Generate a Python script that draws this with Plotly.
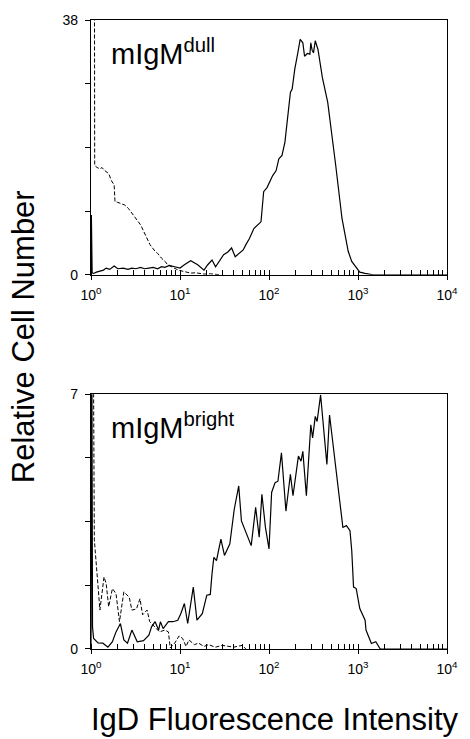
import plotly.graph_objects as go

# ---- data (IgD fluorescence intensity, relative cell number) ----
dull_igd_x = [1.0, 1.01, 1.03, 1.07, 1.15, 1.26, 1.38, 1.48, 1.62, 1.82, 2.0, 2.3, 2.6, 2.88, 3.2, 3.6, 4.0,
              4.47, 5.0, 5.6, 6.2, 6.76, 7.6, 8.71, 10.0, 11.2, 13.2, 15.8, 18.6, 20.5, 22.9, 25.1, 27.5, 30.9,
              34.5, 38.0, 41.7, 46.0, 51.3, 55.0, 60.3, 67.6, 74.0, 81.3, 87.1, 95, 110, 120, 129, 140, 151,
              162, 174, 182, 195, 210, 224, 240, 251, 270, 288, 295, 305, 316, 331, 355, 380, 398, 457, 510,
              562, 661, 776, 850, 933, 1047, 1200, 1349, 1479, 10000]
dull_igd_y = [0, 8.9, 0.3, 0.2, 0.4, 0.5, 0.7, 1.0, 0.8, 1.3, 0.9, 1.0, 0.8, 1.0, 0.9, 1.1, 0.9,
              1.0, 1.1, 0.9, 1.2, 1.1, 1.4, 1.2, 1.0, 1.5, 2.1, 1.5, 0.7, 1.5, 2.2, 1.2, 2.0, 3.0,
              3.4, 4.0, 2.7, 3.2, 3.7, 4.5, 5.4, 6.9, 7.4, 7.9, 12.4, 13.0, 14.8, 15.5, 17.3, 17.8, 19.8,
              24.0, 27.2, 27.7, 30.7, 33.0, 35.1, 34.6, 32.6, 33.0, 32.9, 34.6, 33.5, 33.1, 34.9, 33.6, 31.0,
              29.4, 25.7, 21.0, 16.3, 8.4, 3.5, 2.0, 1.2, 0.4, 0.2, 0.1, 0, 0]

dull_ctrl_x = [1.09, 1.10, 1.17, 1.26, 1.33, 1.41, 1.58, 1.70, 1.82, 1.86, 2.0, 2.19, 2.4, 2.63, 2.8, 3.02,
               3.3, 3.63, 3.9, 4.27, 4.6, 5.25, 5.6, 6.17, 6.8, 7.24, 8.0, 9.55, 11.0, 13.2, 15.0, 18.6,
               22.0, 28.2]
dull_ctrl_y = [60, 16.3, 16.0, 15.8, 16.0, 15.6, 15.1, 14.0, 13.4, 10.9, 10.8, 10.6, 10.4, 9.9, 9.4, 8.9,
               8.2, 7.4, 6.5, 5.4, 4.5, 3.5, 3.2, 2.5, 2.0, 1.5, 1.2, 0.7, 0.5, 0.25, 0.3, 0.1,
               0.15, 0]

bright_igd_x = [1.0, 1.005, 1.02, 1.04, 1.07, 1.2, 1.36, 1.55, 1.74, 1.91, 2.14, 2.34, 2.57, 2.88, 3.31,
                3.89, 4.47, 4.79, 5.25, 5.75, 6.03, 6.46, 7.41, 8.32, 9.44, 10.2, 11.2, 12.2, 14.1, 15.5,
                17.8, 20.0, 21.9, 22.9, 24.0, 25.7, 28.8, 31.6, 36.3, 40.7, 45.7, 49.0, 52.5, 63.1, 70.8,
                77.6, 83.2, 91.2, 100, 107, 117, 126, 138, 155, 174, 186, 214, 229, 240, 263, 295, 309,
                331, 347, 380, 417, 447, 479, 525, 589, 631, 676, 741, 813, 851, 891, 955, 1047, 1202,
                1230, 1413, 1585, 1778, 10000]
bright_igd_y = [0, 9, 9, 0.6, 0.29, 0.17, 0.16, 0.05, 0.2, 0.47, 0.70, 0.25, 0.16, 0.52, 0.2,
                0.23, 0.38, 0.61, 0.75, 0.52, 0.75, 0.56, 0.75, 0.75, 0.79, 0.97, 1.25, 0.7, 1.70, 0.79,
                0.97, 1.48, 1.50, 2.07, 2.52, 2.43, 3.02, 2.57, 2.89, 3.84, 4.48, 3.52, 3.34, 2.84, 3.89,
                3.07, 4.25, 3.34, 2.75, 4.30, 4.57, 4.61, 5.39, 3.79, 4.80, 4.21, 5.30, 5.16, 5.43, 4.21, 6.16, 5.80,
                6.39, 6.25, 6.98, 5.98, 5.07, 6.43, 5.62, 4.61, 3.98, 3.34, 3.39, 3.25, 2.70, 1.70, 1.66, 1.11, 0.79,
                0.52, 0.15, 0.2, 0, 0]

bright_ctrl_x = [1.06, 1.09, 1.26, 1.40, 1.48, 1.58, 1.74, 1.91, 2.09, 2.34, 2.69, 2.88, 3.24, 3.55, 3.80,
                 4.27, 4.57, 5.25, 5.89, 6.76, 7.41, 7.76, 8.71, 9.77, 10.7, 11.7, 12.6, 14.5, 16.2, 18.6,
                 20.9, 25, 30, 40, 50, 55]
bright_ctrl_y = [9, 3.0, 1.07, 1.98, 1.80, 1.16, 1.66, 1.52, 0.75, 1.57, 1.42, 1.07, 1.1, 1.38, 0.94,
                 1.07, 0.75, 0.61, 0.47, 0.52, 0.47, 0.03, 0.16, 0.36, 0.29, 0.07, 0.25, 0.12, 0.16, 0.07,
                 0.12, 0.05, 0.1, 0.05, 0.1, 0]

x_tickvals = [1, 10, 100, 1000, 10000]
x_ticktext = ["10<sup>0</sup>", "10<sup>1</sup>", "10<sup>2</sup>", "10<sup>3</sup>", "10<sup>4</sup>"]
top_yticks = [0, 9.5, 19, 28.5, 38]
top_ytext = ["0", "", "", "", "38"]
bot_yticks = [0, 1.75, 3.5, 5.25, 7]
bot_ytext = ["0", "", "", "", "7"]

FONT = "Liberation Sans, Arial, Helvetica, sans-serif"
solid = dict(color="black", width=1.2)
dashed = dict(color="black", width=1.0, dash="4px,2px")

fig = go.Figure()
fig.add_trace(go.Scatter(x=dull_ctrl_x, y=dull_ctrl_y, mode="lines", line=dashed, xaxis="x", yaxis="y"))
fig.add_trace(go.Scatter(x=dull_igd_x, y=dull_igd_y, mode="lines", line=solid, xaxis="x", yaxis="y"))
fig.add_trace(go.Scatter(x=bright_ctrl_x, y=bright_ctrl_y, mode="lines", line=dashed, xaxis="x2", yaxis="y2"))
fig.add_trace(go.Scatter(x=bright_igd_x, y=bright_igd_y, mode="lines", line=solid, xaxis="x2", yaxis="y2"))

H = 739 - 17 - 90
ph = 256 / H

xcommon = dict(type="log", range=[0, 4], tickvals=x_tickvals, ticktext=x_ticktext,
               showgrid=False, zeroline=False, showline=True, linecolor="black", linewidth=1.2,
               mirror=True, ticks="outside", ticklen=4, tickcolor="black", tickwidth=1,
               tickfont=dict(family=FONT, size=14, color="black"), ticklabelstandoff=3,
               minor=dict(ticks="inside", ticklen=5, tickcolor="black", dtick="D1", showgrid=False))
ycommon = dict(showgrid=False, zeroline=False, showline=True, linecolor="black", linewidth=1.2,
               mirror=True, ticks="outside", ticklen=5, tickcolor="black", tickwidth=1,
               tickfont=dict(family=FONT, size=14, color="black"), ticklabelstandoff=4)

fig.update_layout(
    width=470, height=739,
    margin=dict(l=91, r=14, t=17, b=90),
    paper_bgcolor="white", plot_bgcolor="white",
    showlegend=False,
    xaxis=dict(domain=[0, 1], anchor="y", **xcommon),
    yaxis=dict(domain=[1 - ph, 1], anchor="x", range=[0, 38], tickvals=top_yticks, ticktext=top_ytext, **ycommon),
    xaxis2=dict(domain=[0, 1], anchor="y2", **xcommon),
    yaxis2=dict(domain=[0, ph], anchor="x2", range=[0, 7], tickvals=bot_yticks, ticktext=bot_ytext, **ycommon),
)

fig.add_annotation(text="mIgM<sup>dull</sup>", xref="x domain", yref="y domain", x=0.05, y=0.875,
                   xanchor="left", yanchor="middle", showarrow=False,
                   font=dict(family=FONT, size=29, color="black"))
fig.add_annotation(text="mIgM<sup>bright</sup>", xref="x2 domain", yref="y2 domain", x=0.05, y=0.875,
                   xanchor="left", yanchor="middle", showarrow=False,
                   font=dict(family=FONT, size=29, color="black"))
fig.add_annotation(text="Relative Cell Number", xref="paper", yref="paper", x=(22 - 91) / 365,
                   y=(649 - 335) / H, xanchor="center", yanchor="middle", textangle=-90, showarrow=False,
                   font=dict(family=FONT, size=31, color="black"))
fig.add_annotation(text="IgD Fluorescence Intensity", xref="paper", yref="paper", x=(280 - 91) / 365,
                   y=(649 - 720) / H, xanchor="center", yanchor="middle", showarrow=False,
                   font=dict(family=FONT, size=31, color="black"))

fig.write_html("out.html", config={"displayModeBar": False},
               post_script="document.body.style.margin='0px';document.body.style.overflow='hidden';")
